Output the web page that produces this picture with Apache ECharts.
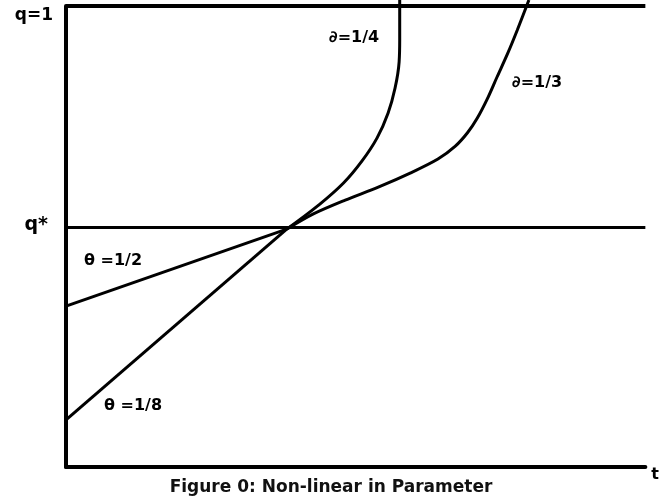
<!DOCTYPE html>
<html>
<head>
<meta charset="utf-8">
<script src="https://cdn.jsdelivr.net/npm/echarts@6/dist/echarts.min.js"></script>
<style>
  html, body { margin: 0; padding: 0; background: #fff; }
  #chart { width: 662px; height: 500px; }
</style>
</head>
<body>
<div id="chart"></div>
<script>
  // values (t on 0..10, q on 0..1)
  var qStar = 0.515
  var qOne = 1

  var halfT = [0, 3.81]
  var halfQ = [0.349, 0.516]

  var eighthT = [0, 3.81]
  var eighthQ = [0.102, 0.516]

  var quarterT = [3.81, 4.36, 4.79, 5.11, 5.37, 5.56, 5.68, 5.75, 5.76, 5.76]
  var quarterQ = [0.516, 0.568, 0.616, 0.664, 0.714, 0.768, 0.822, 0.879, 0.926, 1.013]

  var thirdT = [3.81, 4.27, 4.82, 5.39, 5.95, 6.42, 6.72, 6.93, 7.10, 7.27, 7.44, 7.62, 7.79, 7.99]
  var thirdQ = [0.516, 0.549, 0.579, 0.607, 0.638, 0.668, 0.696, 0.725, 0.757, 0.798, 0.846, 0.896, 0.948, 1.013]

  function pairs(xs, ys) {
    return xs.map(function (x, i) { return [x, ys[i]] })
  }

  var font = 'DejaVu Sans'
  var lineStyle = { color: '#000', width: 3 }

  var chart = echarts.init(document.getElementById('chart'))
  chart.setOption({
    animation: false,
    backgroundColor: '#fff',
    title: {
      text: 'Figure 0: Non-linear in Parameter',
      left: 'center',
      top: 474,
      textStyle: { fontFamily: font, fontSize: 17, fontWeight: 'bold', color: '#111' }
    },
    grid: { left: 66, right: 13, top: 6, bottom: 33 },
    xAxis: {
      type: 'value',
      min: 0,
      max: 10,
      name: 't',
      nameLocation: 'end',
      nameGap: 6,
      nameTextStyle: { fontFamily: font, fontSize: 16, fontWeight: 'bold', color: '#000', verticalAlign: 'top' },
      axisLine: { show: true, lineStyle: { color: '#000', width: 4 } },
      axisTick: { show: false },
      axisLabel: { show: false },
      splitLine: { show: false }
    },
    yAxis: {
      type: 'value',
      min: 0,
      max: 1,
      axisLine: { show: true, lineStyle: { color: '#000', width: 4 } },
      axisTick: { show: false },
      splitLine: { show: false },
      axisLabel: {
        customValues: [qStar, qOne],
        margin: 13,
        formatter: function (v) {
          return v === qOne ? '{a|q=1}' : '{b|q*}'
        },
        rich: {
          a: { fontFamily: font, fontSize: 17, fontWeight: 'bold', color: '#000', padding: [20, 0, 0, 0] },
          b: { fontFamily: font, fontSize: 19, fontWeight: 'bold', color: '#000', padding: [0, 5, 10, 0] }
        }
      }
    },
    graphic: [
      { type: 'text', left: 329, top: 30, style: { text: '∂=1/4', font: 'bold 16px "DejaVu Sans"', fill: '#000' } },
      { type: 'text', left: 512, top: 75, style: { text: '∂=1/3', font: 'bold 16px "DejaVu Sans"', fill: '#000' } },
      { type: 'text', left: 84, top: 253, style: { text: 'θ =1/2', font: 'bold 16px "DejaVu Sans"', fill: '#000' } },
      { type: 'text', left: 104, top: 398, style: { text: 'θ =1/8', font: 'bold 16px "DejaVu Sans"', fill: '#000' } }
    ],
    series: [
      {
        name: 'θ=1/2',
        type: 'line',
        showSymbol: false,
        data: pairs(halfT, halfQ),
        lineStyle: lineStyle,
        markLine: {
          silent: true,
          symbol: 'none',
          label: { show: false },
          data: [
            { yAxis: qStar, lineStyle: { color: '#000', width: 3, type: 'solid' } },
            { yAxis: qOne, lineStyle: { color: '#000', width: 4, type: 'solid' } }
          ]
        }
      },
      {
        name: 'θ=1/8',
        type: 'line',
        showSymbol: false,
        data: pairs(eighthT, eighthQ),
        lineStyle: lineStyle
      },
      {
        name: '∂=1/4',
        type: 'line',
        showSymbol: false,
        smooth: 0.4,
        clip: false,
        data: pairs(quarterT, quarterQ),
        lineStyle: lineStyle
      },
      {
        name: '∂=1/3',
        type: 'line',
        showSymbol: false,
        smooth: 0.3,
        clip: false,
        data: pairs(thirdT, thirdQ),
        lineStyle: lineStyle
      }
    ]
  })
</script>
</body>
</html>
